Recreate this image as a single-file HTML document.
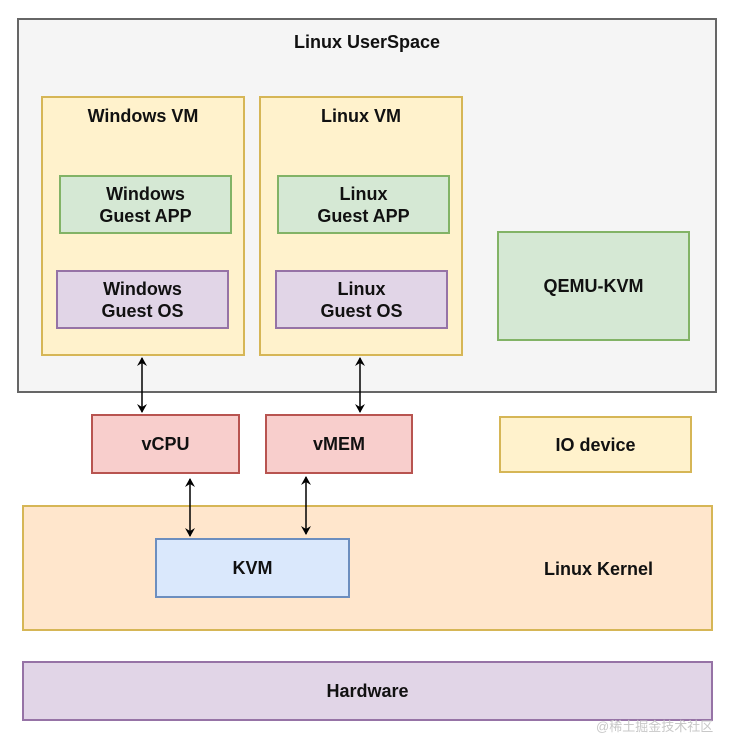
<!DOCTYPE html>
<html><head><meta charset="utf-8"><style>
body{margin:0;width:741px;height:739px;background:#fff;position:relative;overflow:hidden;font-family:"Comic Sans MS","Liberation Sans",sans-serif;}
.b{position:absolute;box-sizing:border-box;border:2px solid;display:flex;align-items:center;justify-content:center;text-align:center;font-weight:bold;font-size:18px;color:#111;line-height:22px;}
.t{position:absolute;font-weight:bold;font-size:18px;color:#111;}
</style></head><body>
<div class="b" style="left:17px;top:18px;width:700px;height:375px;background:#f5f5f5;border-color:#666;"></div>
<div class="t" style="left:17px;width:700px;top:32px;text-align:center">Linux UserSpace</div>
<div class="b" style="left:41px;top:96px;width:204px;height:260px;background:#fff2cc;border-color:#d6b656;"></div>
<div class="t" style="left:41px;width:204px;top:106px;text-align:center">Windows VM</div>
<div class="b" style="left:259px;top:96px;width:204px;height:260px;background:#fff2cc;border-color:#d6b656;"></div>
<div class="t" style="left:259px;width:204px;top:106px;text-align:center">Linux VM</div>
<div class="b" style="left:59px;top:175px;width:173px;height:59px;background:#d5e8d4;border-color:#82b366;">Windows<br>Guest APP</div>
<div class="b" style="left:56px;top:270px;width:173px;height:59px;background:#e1d5e7;border-color:#9673a6;">Windows<br>Guest OS</div>
<div class="b" style="left:277px;top:175px;width:173px;height:59px;background:#d5e8d4;border-color:#82b366;">Linux<br>Guest APP</div>
<div class="b" style="left:275px;top:270px;width:173px;height:59px;background:#e1d5e7;border-color:#9673a6;">Linux<br>Guest OS</div>
<div class="b" style="left:497px;top:231px;width:193px;height:110px;background:#d5e8d4;border-color:#82b366;">QEMU-KVM</div>
<div class="b" style="left:91px;top:414px;width:149px;height:60px;background:#f8cecc;border-color:#b85450;">vCPU</div>
<div class="b" style="left:265px;top:414px;width:148px;height:60px;background:#f8cecc;border-color:#b85450;">vMEM</div>
<div class="b" style="left:499px;top:416px;width:193px;height:57px;background:#fff2cc;border-color:#d6b656;">IO device</div>
<div class="b" style="left:22px;top:505px;width:691px;height:126px;background:#ffe6cc;border-color:#d6b656;"></div>
<div class="t" style="left:544px;top:559px;">Linux Kernel</div>
<div class="b" style="left:155px;top:538px;width:195px;height:60px;background:#dae8fc;border-color:#6c8ebf;">KVM</div>
<div class="b" style="left:22px;top:661px;width:691px;height:60px;background:#e1d5e7;border-color:#9673a6;">Hardware</div>
<svg style="position:absolute;left:0;top:0" width="741" height="739">
<defs><marker id="a" markerWidth="10" markerHeight="10" refX="8" refY="5" orient="auto-start-reverse" markerUnits="userSpaceOnUse"><path d="M0,0 L9,5 L0,10 L3,5z" fill="#000"/></marker></defs>
<g stroke="#000" stroke-width="1.5">
<line x1="142" y1="358" x2="142" y2="412" marker-start="url(#a)" marker-end="url(#a)"/>
<line x1="360" y1="358" x2="360" y2="412" marker-start="url(#a)" marker-end="url(#a)"/>
<line x1="190" y1="479" x2="190" y2="536" marker-start="url(#a)" marker-end="url(#a)"/>
<line x1="306" y1="477" x2="306" y2="534" marker-start="url(#a)" marker-end="url(#a)"/>
</g></svg>
<div style="position:absolute;left:596px;top:716px;font-size:13px;color:#c8c8c8;font-family:'Liberation Sans','Noto Sans CJK SC',sans-serif;">@稀土掘金技术社区</div>
</body></html>
